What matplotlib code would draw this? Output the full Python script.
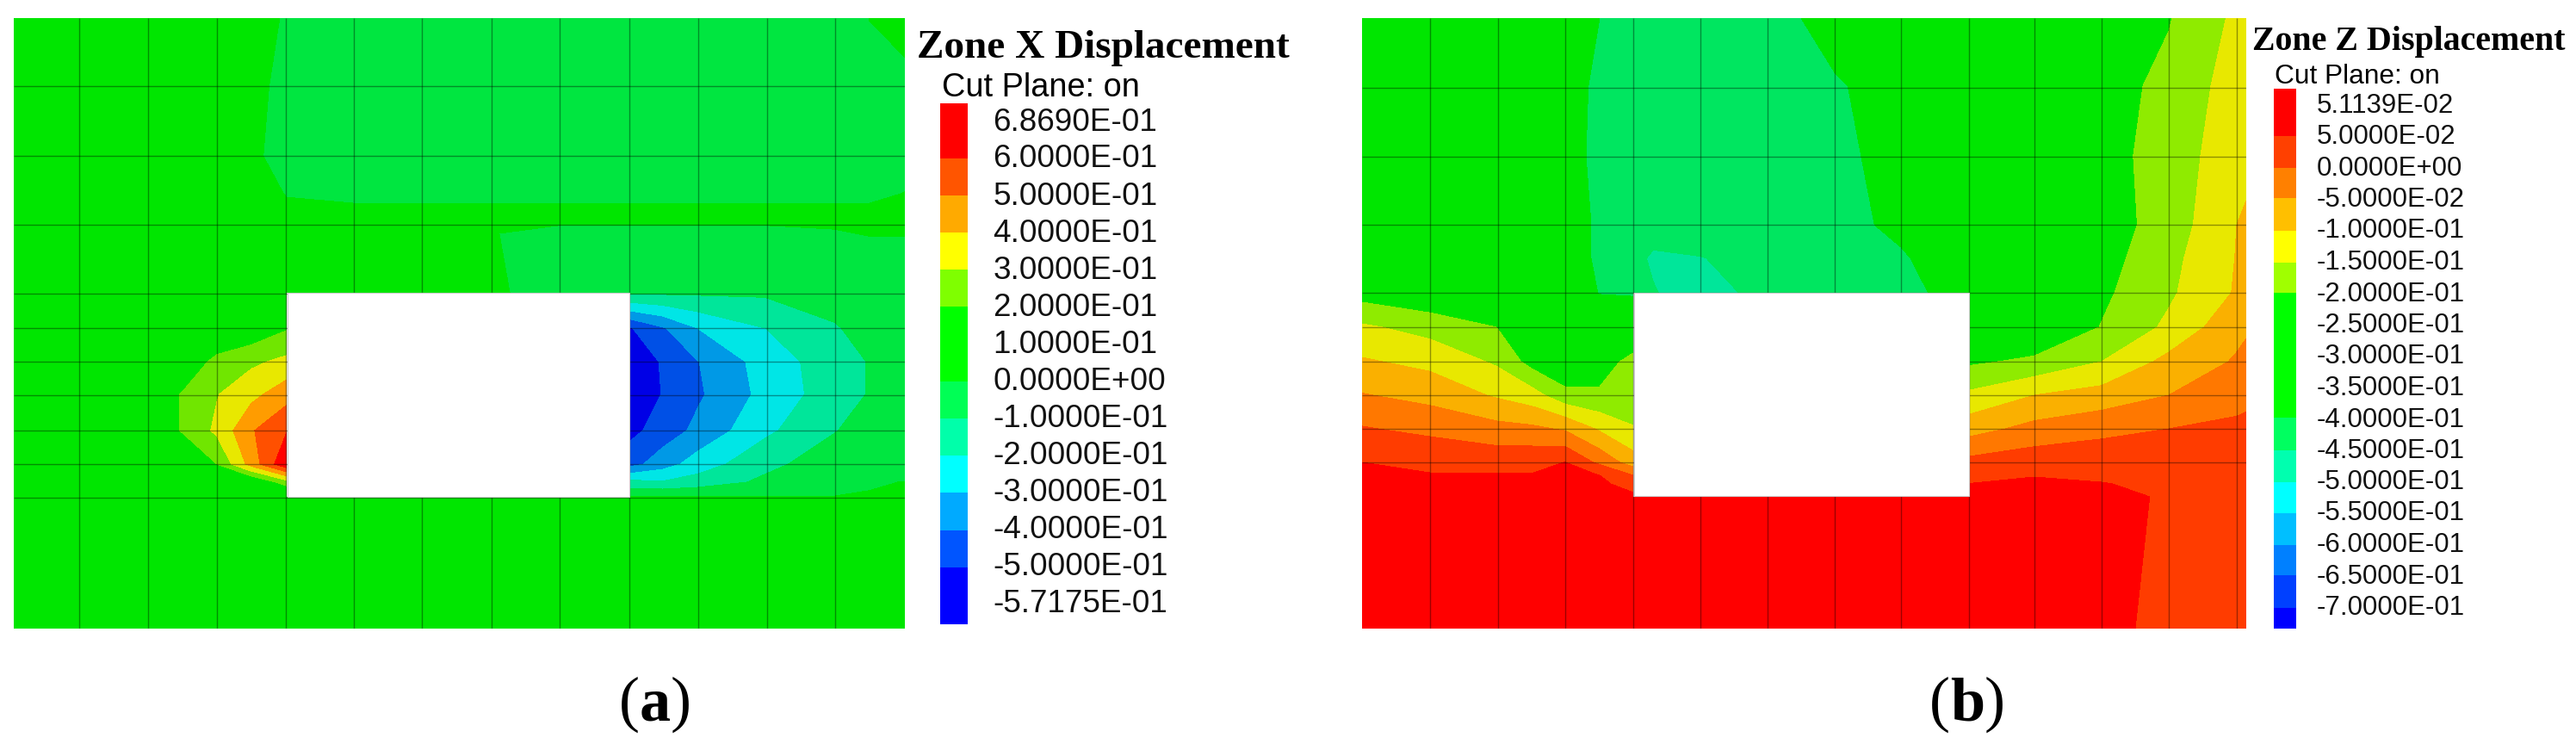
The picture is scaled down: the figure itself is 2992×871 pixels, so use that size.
import numpy as np
import matplotlib
matplotlib.use("Agg")
import matplotlib.pyplot as plt
from matplotlib.patches import Rectangle

n = float("nan")
W, H = 2992, 871

# ---------- Panel (a): Zone X displacement ----------
a_cols = [16, 92, 172, 212, 252, 292, 333, 411, 490, 571, 650, 731, 770, 810, 889, 969, 1010, 1051]
a_rows = [21, 100, 181, 225, 250, 271, 340, 381, 420, 458, 500, 539, 560, 577, 730]
a021 = [.08, .07, .06, .04, .03, .02, -.005, -.03, -.04, -.04, -.04, -.04, -.04, -.04, -.04, -.02, .0005, .02]
a100 = [.08, .07, .06, .04, .03, .01, -.01, -.03, -.04, -.04, -.04, -.04, -.04, -.04, -.04, -.03, -.01, -.015]
a181 = [.08, .07, .06, .04, .03, .01, -.02, -.03, -.04, -.04, -.04, -.04, -.04, -.04, -.04, -.03, -.02, -.02]
a225 = [.08, .07, .06, .04, .03, .02, -.002, -.008, -.008, -.008, -.008, -.008, -.008, -.008, -.008, -.008, -.008, .001]
a250 = [.08, .07, .06, .05, .04, .03, .01, .01, .01, .01, .01, .01, .01, .01, .01, .01, .01, .01]
a271 = [.08, .07, .06, .05, .04, .03, .02, .01, .01, .001, -.008, -.008, -.008, -.008, -.008, -.003, .002, .002]
a340 = [.08, .07, .06, .05, .05, .04, .05, .02, .02, .012, -.033, -.085, -.085, -.085, -.085, -.05, -.04, -.035]
a381 = [.08, .07, .06, .05, .05, .12, .19, n, n, n, n, -.51, -.41, -.30, -.20, -.11, -.06, -.04]
a420 = [.08, .07, .06, .09, .24, .28, .325, n, n, n, n, -.57, -.49, -.404, -.257, -.145, -.095, -.05]
a458 = [.08, .07, .10, .21, .295, .37, .46, n, n, n, n, -.5717, -.496, -.416, -.27, -.147, -.094, -.05]
a500 = [.08, .07, .11, .21, .32, .49, .595, n, n, n, n, -.53, -.455, -.376, -.222, -.105, -.06, -.04]
a539 = [.07, .06, .04, .07, .20, .44, .686, n, n, n, n, -.44, -.345, -.255, -.125, -.05, -.03, -.02]
a560 = [.07, .06, .04, .05, .04, .08, .25, n, n, n, n, -.17, -.19, -.155, -.08, -.01, -.004, .001]
a577 = [.06, .06, .05, .05, .05, .05, .05, .03, .02, .01, .005, .0005, .0005, .0005, .0005, .0005, .003, .004]
a730 = [.05] * 18
a_levels = [-.57175, -.5, -.4, -.3, -.2, -.1, 0, .1, .2, .3, .4, .5, .6, .6869]
a_fill = ["#0000E6", "#0050E6", "#0099E6", "#00E6E6", "#00E69A", "#00E640", "#00E600",
          "#00E600", "#70E600", "#E8E800", "#FF9C00", "#FF5000", "#FF0000"]
a_labels = ["6.8690E-01", "6.0000E-01", "5.0000E-01", "4.0000E-01", "3.0000E-01", "2.0000E-01", "1.0000E-01",
            "0.0000E+00", "-1.0000E-01", "-2.0000E-01", "-3.0000E-01", "-4.0000E-01", "-5.0000E-01", "-5.7175E-01"]
a_key_edges = [120, 184, 227, 270, 313, 356, 443, 486, 529, 572, 616, 659, 725]
a_key_cols = ["#FF0000", "#FF5500", "#FFAA00", "#FFFF00", "#7FFF00", "#00FF00", "#00FF55",
              "#00FFAA", "#00FFFF", "#00AAFF", "#0055FF", "#0000FF"]
a_label_y = [142, 185, 228, 271, 314, 357, 400, 443, 486, 529, 572, 615, 658, 701]
a_mesh_x = [92, 172, 252, 332, 411, 490, 571, 650, 731, 811, 891, 970]
a_mesh_y = [100, 181, 261, 341, 381, 420, 459, 500, 539, 578]
a_hole = (334, 340, 731, 577)

# ---------- Panel (b): Zone Z displacement ----------
b_cols = [1582, 1661, 1738, 1780, 1818, 1858, 1897, 1920, 1975, 2053, 2131, 2208, 2287, 2363, 2441, 2519, 2598, 2609]
b_rows = [21, 100, 181, 261, 300, 340, 380, 420, 459, 498, 537, 550, 562, 577, 730]
b021 = [-.30, -.30, -.31, -.32, -.33, -.40, -.42, -.42, -.42, -.42, -.38, -.32, -.27, -.25, -.23, -.203, -.14, -.135]
b100 = [-.30, -.30, -.32, -.35, -.38, -.41, -.42, -.42, -.42, -.42, -.405, -.38, -.32, -.27, -.22, -.1875, -.127, -.122]
b181 = [-.30, -.30, -.32, -.35, -.385, -.41, -.42, -.42, -.42, -.42, -.41, -.385, -.32, -.27, -.225, -.172, -.125, -.115]
b261 = [-.30, -.30, -.32, -.35, -.37, -.41, -.42, -.42, -.42, -.42, -.415, -.39, -.33, -.27, -.225, -.178, -.10, -.092]
b300 = [-.30, -.30, -.32, -.35, -.37, -.41, -.43, -.46, -.452, -.43, -.42, -.405, -.37, -.29, -.22, -.165, -.098, -.09]
b340 = [-.222, -.243, -.24, -.28, -.32, -.405, -.42, -.445, -.49, -.42, -.415, -.41, -.385, -.30, -.21, -.158, -.095, -.085]
b380 = [-.142, -.169, -.20, -.25, -.29, -.30, -.23, n, n, n, n, n, -.26, -.25, -.198, -.14, -.063, -.055]
b420 = [-.094, -.114, -.157, -.22, -.25, -.215, -.19, n, n, n, n, n, -.208, -.19, -.15, -.085, -.045, -.04]
b459 = [-.047, -.066, -.106, -.13, -.184, -.195, -.168, n, n, n, n, n, -.14, -.10, -.08, -.05, -.02, -.015]
b498 = [.004, -.013, -.033, -.04, -.056, -.107, -.148, n, n, n, n, n, -.07, -.034, -.013, 0, .012, .015]
b537 = [.05, .043, .033, .038, .0505, -.012, -.075, n, n, n, n, n, .015, .03, .03, .03, .032, .033]
b550 = [.051, .0505, .0505, .0505, .051, .0498, -.01, n, n, n, n, n, .037, .0495, .045, .035, .033, .033]
b562 = [.051, .051, .051, .051, .051, .051, .048, n, n, n, n, n, .0505, .051, .051, .045, .03, .03]
b577 = [.051, .051, .051, .051, .051, .051, .051, .051, .051, .051, .051, .051, .051, .051, .051, .0496, .03, .03]
b730 = [.051, .051, .051, .051, .051, .051, .051, .051, .051, .051, .051, .051, .051, .051, .051, .049, .03, .03]
b_levels = [-.7, -.65, -.6, -.55, -.5, -.45, -.4, -.35, -.3, -.25, -.2, -.15, -.1, -.05, 0, .05, .051139]
b_fill = ["#0040E6", "#0078E6", "#00B0E6", "#00E6E6", "#00E69A", "#00E660", "#00E600", "#00E600", "#00E600",
          "#00E600", "#8FEB00", "#E8E800", "#FAB000", "#FF7800", "#FF3C00", "#FF0000"]
b_labels = ["5.1139E-02", "5.0000E-02", "0.0000E+00", "-5.0000E-02", "-1.0000E-01", "-1.5000E-01", "-2.0000E-01",
            "-2.5000E-01", "-3.0000E-01", "-3.5000E-01", "-4.0000E-01", "-4.5000E-01", "-5.0000E-01", "-5.5000E-01",
            "-6.0000E-01", "-6.5000E-01", "-7.0000E-01"]
b_key_edges = [103, 158, 195, 230, 268, 305, 340, 485, 523, 560, 596, 633, 668, 706, 730]
b_key_cols = ["#FF0000", "#FF4000", "#FF8000", "#FFBF00", "#FFFF00", "#A0FF00", "#00FF00", "#00FF60",
              "#00FFAF", "#00FFFF", "#00BFFF", "#0080FF", "#0040FF", "#0000FF"]
b_label_y = [123, 159, 196, 232, 268, 305, 342, 378, 414, 451, 488, 524, 560, 596, 633, 670, 706]
b_mesh_x = [1661, 1740, 1818, 1897, 1975, 2053, 2131, 2208, 2287, 2363, 2441, 2519, 2598]
b_mesh_y = [102, 182, 261, 340, 380, 420, 459, 498, 537]
b_hole = (1898, 340, 2287, 576)

a_z = np.ma.masked_invalid(np.array([a021, a100, a181, a225, a250, a271, a340, a381, a420,
                                     a458, a500, a539, a560, a577, a730]))
b_z = np.ma.masked_invalid(np.array([b021, b100, b181, b261, b300, b340, b380, b420, b459,
                                     b498, b537, b550, b562, b577, b730]))

SANS = "Liberation Sans"
SERIF = "Liberation Serif"
fig = plt.figure(figsize=(W / 100, H / 100), dpi=100, facecolor="white")


def px_axes(x0, y0, x1, y1):
    ax = fig.add_axes([x0 / W, 1 - y1 / H, (x1 - x0) / W, (y1 - y0) / H])
    ax.set_xlim(x0, x1)
    ax.set_ylim(y1, y0)
    return ax


def field(cols, rows, z, levels, fill, mesh_x, mesh_y, hole):
    ax = px_axes(cols[0], rows[0], cols[-1], rows[-1])
    ax.contourf(cols, rows, z, levels=levels, colors=fill, corner_mask=False, antialiased=False)
    ax.vlines(mesh_x, rows[0], rows[-1], colors="k", alpha=.38, lw=1.0, zorder=2)
    ax.hlines(mesh_y, cols[0], cols[-1], colors="k", alpha=.38, lw=1.0, zorder=2)
    ax.add_patch(Rectangle((hole[0], hole[1]), hole[2] - hole[0], hole[3] - hole[1],
                           fc="white", ec="#cccccc", lw=.8, zorder=3))
    ax.axis("off")


def key(x0, x1, edges, colours, label_y, labels, size, pad):
    ax = px_axes(x0, edges[0], x1, edges[-1])
    for top, bottom, c in zip(edges[:-1], edges[1:], colours):
        ax.barh((top + bottom) / 2, x1 - x0, height=bottom - top, left=x0, color=c, lw=0)
    ax.set_xticks([])
    ax.yaxis.tick_right()
    ax.set_yticks(label_y)
    ax.set_yticklabels(labels, fontsize=size, family=SANS, va="center", color="#111111")
    ax.tick_params(axis="y", length=0, pad=pad)
    for s in ax.spines.values():
        s.set_visible(False)


field(a_cols, a_rows, a_z, a_levels, a_fill, a_mesh_x, a_mesh_y, a_hole)
field(b_cols, b_rows, b_z, b_levels, b_fill, b_mesh_x, b_mesh_y, b_hole)
key(1092, 1124, a_key_edges, a_key_cols, a_label_y, a_labels, 26.6, 21)
key(2641, 2667, b_key_edges, b_key_cols, b_label_y, b_labels, 22.5, 17)


def put(x, y, s, size, family, weight="normal"):
    fig.text(x / W, 1 - y / H, s, fontsize=size, family=family, weight=weight,
             ha="left", va="baseline", color="black")


put(1065, 67, "Zone X Displacement", 34, SERIF, "bold")
put(1094, 112, "Cut Plane: on", 27.3, SANS)
put(2616, 58, "Zone Z Displacement", 28.7, SERIF, "bold")
put(2642, 97, "Cut Plane: on", 22.8, SANS)

put(719, 836, "(", 52, SERIF)
put(743, 836, "a", 52, SERIF, "bold")
put(779, 836, ")", 52, SERIF)
put(2241, 836, "(", 52, SERIF)
put(2265, 836, "b", 52, SERIF, "bold")
put(2305, 836, ")", 52, SERIF)

fig.savefig("out.png", dpi=100, facecolor="white")
